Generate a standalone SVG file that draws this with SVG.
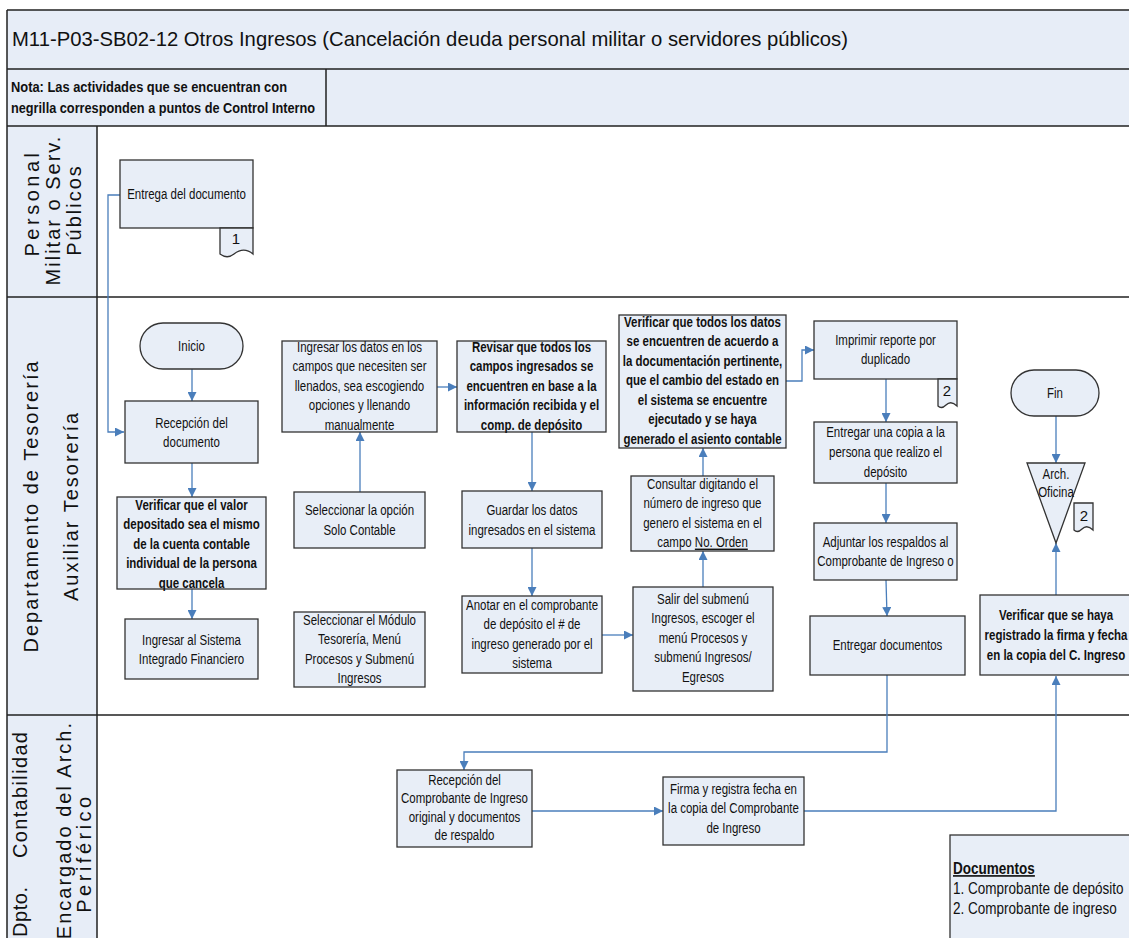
<svg xmlns="http://www.w3.org/2000/svg" width="1129" height="938" viewBox="0 0 1129 938">
  <style>
    .hdr { fill: #E7EDF7; }
    .frm { stroke: #222; stroke-width: 1.5; fill: none; }
    .bx { fill: #E8EEF7; stroke: #333; stroke-width: 1.3; }
    .t { font-family: "Liberation Sans", Arial, sans-serif; font-size: 14px; fill: #111; text-anchor: middle; }
    .b { font-weight: bold; }
    .lane { font-family: "Liberation Sans", Arial, sans-serif; font-size: 20px; fill: #111; text-anchor: middle; letter-spacing: 2px; }
    .wide { letter-spacing: 3.5px; }
    .c { fill: none; stroke: #4A7EBB; stroke-width: 1.3; }
    .c.a { marker-end: url(#ah); }
    .tab { font-family: "Liberation Sans", Arial, sans-serif; font-size: 15px; fill: #111; text-anchor: middle; }
  </style>
  <defs>
    <marker id="ah" viewBox="0 0 10 10" refX="10" refY="5" markerWidth="9" markerHeight="9" markerUnits="userSpaceOnUse" orient="auto">
      <path d="M0,0 L10,5 L0,10 z" fill="#4A7EBB"/>
    </marker>
  </defs>

  <rect width="1129" height="938" fill="#fff"/>

  <!-- header rows and lane header column -->
  <g id="frame">
    <rect class="hdr" x="7" y="10" width="1130" height="59"/>
    <rect class="hdr" x="7" y="69" width="1130" height="57"/>
    <rect class="hdr" x="7" y="126" width="90" height="820"/>
    <path class="frm" d="M7,10 H1135 M7,69 H1135 M7,126 H1135 M7,297 H1135 M7,715 H1135 M7,10 V940 M97,126 V940 M326,69 V126"/>
    <text x="12" y="46" font-family="'Liberation Sans', Arial, sans-serif" font-size="21" fill="#111" textLength="836" lengthAdjust="spacingAndGlyphs">M11-P03-SB02-12 Otros Ingresos (Cancelación deuda personal militar o servidores públicos)</text>
    <text font-family="'Liberation Sans', Arial, sans-serif" font-size="15" font-weight="bold" fill="#111">
      <tspan x="11" y="92" textLength="276" lengthAdjust="spacingAndGlyphs">Nota: Las actividades que se encuentran con</tspan>
      <tspan x="11" y="113" textLength="304" lengthAdjust="spacingAndGlyphs">negrilla corresponden a puntos de Control Interno</tspan>
    </text>
  </g>

  <!-- lane titles -->
  <g id="lane-personal">
    <text class="lane wide" transform="translate(39 203) rotate(-90)">Personal</text>
    <text class="lane" transform="translate(60 210) rotate(-90)">Militar o Serv.</text>
    <text class="lane" transform="translate(81 210) rotate(-90)">Públicos</text>
  </g>
  <g id="lane-tesoreria">
    <text class="lane" transform="translate(38 506) rotate(-90)">Departamento de Tesorería</text>
    <text class="lane" transform="translate(78 506) rotate(-90)">Auxiliar Tesorería</text>
  </g>
  <g id="lane-contabilidad">
    <text class="lane" style="text-anchor:start" transform="translate(27 938) rotate(-90)"><tspan x="1" textLength="52">Dpto.</tspan><tspan x="80" textLength="128">Contabilidad</tspan></text>
    <text class="lane" style="text-anchor:end" transform="translate(71 721) rotate(-90)">Encargado del Arch.</text>
    <text class="lane wide" transform="translate(91 853) rotate(-90)">Periférico</text>
  </g>

  <!-- connectors -->
  <g id="connectors">
    <path class="c a" d="M120,195 H108 V432 H124"/>
    <path class="c a" d="M192,369 V401"/>
    <path class="c a" d="M192,463 V497"/>
    <path class="c a" d="M192,589 V619"/>
    <path class="c a" d="M360,492 V432"/>
    <path class="c a" d="M437,387 H457"/>
    <path class="c a" d="M532,432 V491"/>
    <path class="c a" d="M532,548 V596"/>
    <path class="c a" d="M602,635 H633"/>
    <path class="c a" d="M703,587 V551"/>
    <path class="c a" d="M703,476 V448"/>
    <path class="c a" d="M786,381 H802 V350 H814"/>
    <path class="c a" d="M886,379 V422"/>
    <path class="c a" d="M886,483 V523"/>
    <path class="c a" d="M886,580 L887,616"/>
    <path class="c a" d="M887,675 V752 H464 V770"/>
    <path class="c a" d="M532,811 H663"/>
    <path class="c a" d="M804,811 H1056 V676"/>
    <path class="c a" d="M1056,595 V543"/>
    <path class="c a" d="M1056,416 V463"/>
  </g>

  <!-- lane 1 -->
  <g id="n-entrega">
    <rect class="bx" x="120" y="160" width="133" height="68"/>
    <text class="t" transform="translate(186.5 0) scale(.82 1)"><tspan x="0" y="199">Entrega del documento</tspan></text>
    <path class="bx" d="M220,228 H253 V254 C246,248 239,250 234,254 C229,258 224,257 220,254 Z"/>
    <text class="tab" x="236" y="244">1</text>
  </g>

  <!-- lane 2 -->
  <g id="n-inicio">
    <rect class="bx" x="140" y="323" width="103" height="46" rx="23"/>
    <text class="t" transform="translate(191.5 0) scale(.82 1)"><tspan x="0" y="351">Inicio</tspan></text>
  </g>
  <g id="n-recepcion">
    <rect class="bx" x="125" y="401" width="133" height="62"/>
    <text class="t" transform="translate(191.5 0) scale(.82 1)"><tspan x="0" y="428">Recepción del</tspan><tspan x="0" y="447">documento</tspan></text>
  </g>
  <g id="n-verif-valor">
    <rect class="bx" x="117" y="497" width="149" height="92"/>
    <text class="t b" transform="translate(191.5 0) scale(.82 1)"><tspan x="0" y="510">Verificar que el valor</tspan><tspan x="0" y="529.5">depositado  sea el mismo</tspan><tspan x="0" y="549">de la cuenta contable</tspan><tspan x="0" y="568.5">individual de la persona</tspan><tspan x="0" y="588">que cancela</tspan></text>
  </g>
  <g id="n-ingresar-sif">
    <rect class="bx" x="125" y="619" width="133" height="60"/>
    <text class="t" transform="translate(191.5 0) scale(.82 1)"><tspan x="0" y="645">Ingresar al Sistema</tspan><tspan x="0" y="664">Integrado Financiero</tspan></text>
  </g>
  <g id="n-ingresar-datos">
    <rect class="bx" x="282" y="341" width="155" height="91"/>
    <text class="t" transform="translate(359.5 0) scale(.82 1)"><tspan x="0" y="352">Ingresar los datos en los</tspan><tspan x="0" y="371.5">campos que necesiten ser</tspan><tspan x="0" y="391">llenados, sea escogiendo</tspan><tspan x="0" y="410.5">opciones y llenando</tspan><tspan x="0" y="430">manualmente</tspan></text>
  </g>
  <g id="n-sel-opcion">
    <rect class="bx" x="294" y="492" width="131" height="56"/>
    <text class="t" transform="translate(359.5 0) scale(.82 1)"><tspan x="0" y="515">Seleccionar la opción</tspan><tspan x="0" y="535">Solo Contable</tspan></text>
  </g>
  <g id="n-sel-modulo">
    <rect class="bx" x="294" y="612" width="131" height="75"/>
    <text class="t" transform="translate(359.5 0) scale(.82 1)"><tspan x="0" y="625">Seleccionar el Módulo</tspan><tspan x="0" y="644.5">Tesorería, Menú</tspan><tspan x="0" y="664">Procesos y Submenú</tspan><tspan x="0" y="683.5">Ingresos</tspan></text>
  </g>
  <g id="n-revisar">
    <rect class="bx" x="457" y="341" width="149" height="91"/>
    <text class="t b" transform="translate(531.5 0) scale(.82 1)"><tspan x="0" y="352">Revisar que todos los</tspan><tspan x="0" y="371.5">campos ingresados se</tspan><tspan x="0" y="391">encuentren en base a la</tspan><tspan x="0" y="410.5">información recibida y el</tspan><tspan x="0" y="430">comp. de depósito</tspan></text>
  </g>
  <g id="n-guardar">
    <rect class="bx" x="462" y="491" width="140" height="57"/>
    <text class="t" transform="translate(532 0) scale(.82 1)"><tspan x="0" y="515">Guardar los datos</tspan><tspan x="0" y="535">ingresados en el sistema</tspan></text>
  </g>
  <g id="n-anotar">
    <rect class="bx" x="462" y="596" width="140" height="77"/>
    <text class="t" transform="translate(532 0) scale(.82 1)"><tspan x="0" y="610">Anotar en el comprobante</tspan><tspan x="0" y="629.5">de depósito el # de</tspan><tspan x="0" y="649">ingreso generado por el</tspan><tspan x="0" y="668.5">sistema</tspan></text>
  </g>
  <g id="n-salir">
    <rect class="bx" x="633" y="587" width="140" height="104"/>
    <text class="t" transform="translate(703 0) scale(.82 1)"><tspan x="0" y="604">Salir del submenú</tspan><tspan x="0" y="623.5">Ingresos, escoger el</tspan><tspan x="0" y="643">menú Procesos y</tspan><tspan x="0" y="662.5">submenú Ingresos/</tspan><tspan x="0" y="682">Egresos</tspan></text>
  </g>
  <g id="n-consultar">
    <rect class="bx" x="631" y="476" width="143" height="75"/>
    <text class="t" transform="translate(702.5 0) scale(.82 1)"><tspan x="0" y="489">Consultar  digitando el</tspan><tspan x="0" y="508.5">número de ingreso que</tspan><tspan x="0" y="528">genero el sistema en el</tspan><tspan x="0" y="547.5">campo <tspan text-decoration="underline">No. Orden</tspan></tspan></text>
  </g>
  <g id="n-verif-datos">
    <rect class="bx" x="619" y="315" width="167" height="133"/>
    <text class="t b" transform="translate(702.5 0) scale(.82 1)"><tspan x="0" y="327">Verificar que todos los datos</tspan><tspan x="0" y="346.5">se encuentren de acuerdo a</tspan><tspan x="0" y="366">la documentación pertinente,</tspan><tspan x="0" y="385.5">que el cambio del estado en</tspan><tspan x="0" y="405">el sistema  se encuentre</tspan><tspan x="0" y="424.5">ejecutado y se haya</tspan><tspan x="0" y="444">generado el asiento contable</tspan></text>
  </g>
  <g id="n-imprimir">
    <rect class="bx" x="814" y="321" width="143" height="58"/>
    <text class="t" transform="translate(885.5 0) scale(.82 1)"><tspan x="0" y="345">Imprimir reporte por</tspan><tspan x="0" y="364">duplicado</tspan></text>
    <path class="bx" d="M938,379 H957 V406 C953,402 949,402 946,405 C943,408 940,408 938,406 Z"/>
    <text class="tab" x="947" y="396">2</text>
  </g>
  <g id="n-entregar-copia">
    <rect class="bx" x="814" y="422" width="143" height="61"/>
    <text class="t" transform="translate(885.5 0) scale(.82 1)"><tspan x="0" y="437">Entregar una copia a la</tspan><tspan x="0" y="457">persona que realizo el</tspan><tspan x="0" y="477">depósito</tspan></text>
  </g>
  <g id="n-adjuntar">
    <rect class="bx" x="814" y="523" width="143" height="57"/>
    <text class="t" transform="translate(885.5 0) scale(.82 1)"><tspan x="0" y="547">Adjuntar los respaldos al</tspan><tspan x="0" y="566">Comprobante de Ingreso o</tspan></text>
  </g>
  <g id="n-entregar-docs">
    <rect class="bx" x="810" y="616" width="155" height="59"/>
    <text class="t" transform="translate(887.5 0) scale(.82 1)"><tspan x="0" y="650">Entregar documentos</tspan></text>
  </g>
  <g id="n-fin">
    <rect class="bx" x="1011" y="370" width="88" height="46" rx="23"/>
    <text class="t" transform="translate(1055 0) scale(.82 1)"><tspan x="0" y="398">Fin</tspan></text>
  </g>
  <g id="n-arch">
    <path class="bx" d="M1027,463 H1085 L1056,543 Z"/>
    <text class="t" transform="translate(1056 0) scale(.82 1)"><tspan x="0" y="479">Arch.</tspan><tspan x="0" y="497">Oficina</tspan></text>
    <path class="bx" d="M1074,503 H1093 V530 C1089,526 1085,526 1082,529 C1079,532 1076,532 1074,530 Z"/>
    <text class="tab" x="1084" y="521">2</text>
  </g>
  <g id="n-verif-firma">
    <rect class="bx" x="980" y="595" width="152" height="80"/>
    <text class="t b" transform="translate(1056 0) scale(.82 1)"><tspan x="0" y="620">Verificar que se haya</tspan><tspan x="0" y="640">registrado la firma y fecha</tspan><tspan x="0" y="660">en la copia del C. Ingreso</tspan></text>
  </g>

  <!-- lane 3 -->
  <g id="n-recep-comp">
    <rect class="bx" x="397" y="770" width="135" height="77"/>
    <text class="t" transform="translate(464.5 0) scale(.82 1)"><tspan x="0" y="785">Recepción del</tspan><tspan x="0" y="803.5">Comprobante de Ingreso</tspan><tspan x="0" y="822">original y  documentos</tspan><tspan x="0" y="840.5">de respaldo</tspan></text>
  </g>
  <g id="n-firma">
    <rect class="bx" x="663" y="777" width="141" height="68"/>
    <text class="t" transform="translate(733.5 0) scale(.82 1)"><tspan x="0" y="794">Firma y registra fecha en</tspan><tspan x="0" y="813.5">la copia del Comprobante</tspan><tspan x="0" y="833">de Ingreso</tspan></text>
  </g>
  <g id="legend">
    <rect class="bx" x="950" y="835" width="185" height="110"/>
    <text class="t" style="text-anchor:start; font-size:16.5px" transform="translate(953 0) scale(.82 1)"><tspan x="0" y="874" font-weight="bold" text-decoration="underline">Documentos</tspan><tspan x="0" y="894">1. Comprobante de depósito</tspan><tspan x="0" y="914">2. Comprobante de ingreso</tspan></text>
  </g>
</svg>
